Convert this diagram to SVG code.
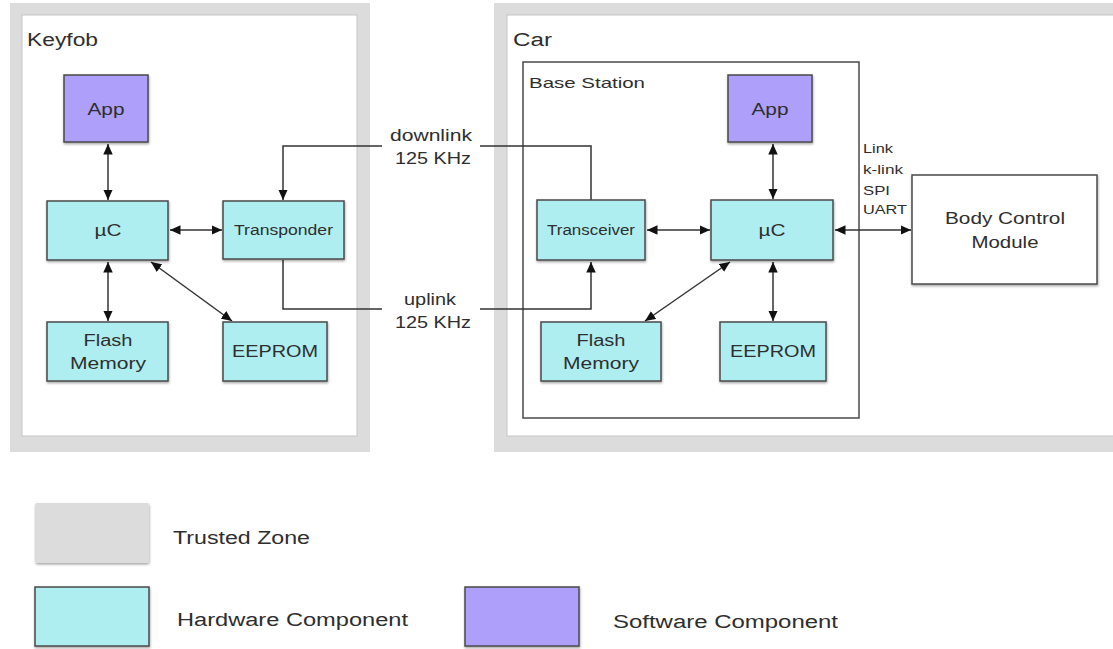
<svg xmlns="http://www.w3.org/2000/svg" width="1113" height="649" viewBox="0 0 1113 649">
<style>
text{font-family:"Liberation Sans",Arial,sans-serif;fill:#2e2e2e;}
.zone{fill:#dcdcdc;}
.inner{fill:#fff;stroke:#c4c4c4;stroke-width:1;}
.hw{fill:#aeeef0;stroke:#4a4a4a;stroke-width:1.5;filter:url(#sh);}
.sw{fill:#aea0fa;stroke:#4a4a4a;stroke-width:1.5;filter:url(#sh);}
.plain{fill:#fff;stroke:#4a4a4a;stroke-width:1.5;filter:url(#sh);}
.c{fill:none;stroke:#333;stroke-width:1.5;}
.bi{marker-start:url(#ah);marker-end:url(#ah);}
.end{marker-end:url(#ah);}
.t{text-anchor:middle;}
</style>
<defs>
<marker id="ah" viewBox="0 0 10 10" refX="10" refY="5" markerWidth="7" markerHeight="7" orient="auto-start-reverse" markerUnits="strokeWidth">
<path d="M0,0.5 L10,5 L0,9.5 z" fill="#111"/>
</marker>
<filter id="sh" x="-10%" y="-10%" width="130%" height="140%">
<feDropShadow dx="0.5" dy="1.5" stdDeviation="0.8" flood-color="#000" flood-opacity="0.35"/>
</filter>
</defs>

<g id="keyfob-zone">
<rect class="zone" x="10" y="3" width="360" height="449"/>
<rect class="inner" x="22" y="15" width="335" height="421"/>
<text x="27" y="46" font-size="18" textLength="71" lengthAdjust="spacingAndGlyphs">Keyfob</text>
</g>
<g id="car-zone">
<rect class="zone" x="494" y="3" width="630" height="449"/>
<rect class="inner" x="507" y="15" width="620" height="421"/>
<text x="513" y="46" font-size="18" textLength="39" lengthAdjust="spacingAndGlyphs">Car</text>
</g>
<g id="base-station">
<rect x="523" y="62" width="336" height="356" fill="#fff" stroke="#4a4a4a" stroke-width="1.5"/>
<text x="529" y="88" font-size="15" textLength="116" lengthAdjust="spacingAndGlyphs">Base Station</text>
</g>

<g id="connectors">
<line class="c bi" x1="108" y1="144" x2="108" y2="200"/>
<line class="c bi" x1="170" y1="230" x2="222" y2="230"/>
<line class="c bi" x1="108" y1="262" x2="108" y2="321"/>
<line class="c bi" x1="151" y1="262" x2="232" y2="321"/>
<path class="c" d="M591,200 V146 H480"/>
<path class="c end" d="M382,146 H283 V200"/>
<path class="c" d="M283,260 V309 H382"/>
<path class="c end" d="M480,309 H591 V262"/>
<line class="c bi" x1="773" y1="144" x2="773" y2="199"/>
<line class="c bi" x1="773" y1="262" x2="773" y2="321"/>
<line class="c bi" x1="647" y1="230" x2="710" y2="230"/>
<line class="c bi" x1="835" y1="230" x2="911" y2="230"/>
<line class="c bi" x1="730" y1="262" x2="645" y2="321"/>
<text class="t" x="431" y="141" font-size="16" textLength="82" lengthAdjust="spacingAndGlyphs">downlink</text>
<text class="t" x="433" y="164" font-size="16" textLength="76" lengthAdjust="spacingAndGlyphs">125 KHz</text>
<text class="t" x="430" y="305" font-size="16" textLength="52" lengthAdjust="spacingAndGlyphs">uplink</text>
<text class="t" x="433" y="328" font-size="16" textLength="76" lengthAdjust="spacingAndGlyphs">125 KHz</text>
<text x="863" y="153" font-size="13" textLength="30" lengthAdjust="spacingAndGlyphs">Link</text>
<text x="863" y="174" font-size="13" textLength="40" lengthAdjust="spacingAndGlyphs">k-link</text>
<text x="863" y="195" font-size="13" textLength="27" lengthAdjust="spacingAndGlyphs">SPI</text>
<text x="863" y="214" font-size="13" textLength="44" lengthAdjust="spacingAndGlyphs">UART</text>
</g>

<g id="kf-app">
<rect class="sw" x="64" y="75" width="84" height="67"/>
<text class="t" x="106" y="115" font-size="16" textLength="37" lengthAdjust="spacingAndGlyphs">App</text>
</g>
<g id="kf-uc">
<rect class="hw" x="47" y="201" width="121" height="59"/>
<text class="t" x="108" y="236" font-size="16" textLength="27" lengthAdjust="spacingAndGlyphs">µC</text>
</g>
<g id="kf-transponder">
<rect class="hw" x="223" y="201" width="121" height="58"/>
<text class="t" x="283.5" y="235" font-size="14" textLength="99" lengthAdjust="spacingAndGlyphs">Transponder</text>
</g>
<g id="kf-flash">
<rect class="hw" x="47" y="322" width="121" height="59"/>
<text class="t" x="108" y="346" font-size="16" textLength="49" lengthAdjust="spacingAndGlyphs">Flash</text>
<text class="t" x="108" y="369" font-size="16" textLength="76" lengthAdjust="spacingAndGlyphs">Memory</text>
</g>
<g id="kf-eeprom">
<rect class="hw" x="223" y="322" width="104" height="59"/>
<text class="t" x="275" y="357" font-size="16" textLength="86" lengthAdjust="spacingAndGlyphs">EEPROM</text>
</g>

<g id="car-app">
<rect class="sw" x="728" y="75" width="84" height="67"/>
<text class="t" x="770" y="115" font-size="16" textLength="37" lengthAdjust="spacingAndGlyphs">App</text>
</g>
<g id="car-uc">
<rect class="hw" x="711" y="200" width="122" height="60"/>
<text class="t" x="772" y="236" font-size="16" textLength="27" lengthAdjust="spacingAndGlyphs">µC</text>
</g>
<g id="car-transceiver">
<rect class="hw" x="537" y="200" width="108" height="60"/>
<text class="t" x="591" y="235" font-size="14" textLength="88" lengthAdjust="spacingAndGlyphs">Transceiver</text>
</g>
<g id="car-flash">
<rect class="hw" x="541" y="322" width="120" height="59"/>
<text class="t" x="601" y="346" font-size="16" textLength="49" lengthAdjust="spacingAndGlyphs">Flash</text>
<text class="t" x="601" y="369" font-size="16" textLength="76" lengthAdjust="spacingAndGlyphs">Memory</text>
</g>
<g id="car-eeprom">
<rect class="hw" x="720" y="322" width="106" height="59"/>
<text class="t" x="773" y="357" font-size="16" textLength="86" lengthAdjust="spacingAndGlyphs">EEPROM</text>
</g>
<g id="bcm">
<rect class="plain" x="912" y="175" width="185" height="109"/>
<text class="t" x="1005" y="224" font-size="16" textLength="120" lengthAdjust="spacingAndGlyphs">Body Control</text>
<text class="t" x="1005" y="248" font-size="16" textLength="67" lengthAdjust="spacingAndGlyphs">Module</text>
</g>

<g id="legend-trusted">
<rect x="35" y="503" width="114" height="60" rx="2" fill="#dcdcdc" filter="url(#sh)"/>
<text x="173" y="544" font-size="18" textLength="137" lengthAdjust="spacingAndGlyphs">Trusted Zone</text>
</g>
<g id="legend-hw">
<rect class="hw" x="35" y="587" width="114" height="59"/>
<text x="177" y="626" font-size="18" textLength="231" lengthAdjust="spacingAndGlyphs">Hardware Component</text>
</g>
<g id="legend-sw">
<rect class="sw" x="465" y="587" width="114" height="59"/>
<text x="613" y="628" font-size="18" textLength="225" lengthAdjust="spacingAndGlyphs">Software Component</text>
</g>
</svg>
